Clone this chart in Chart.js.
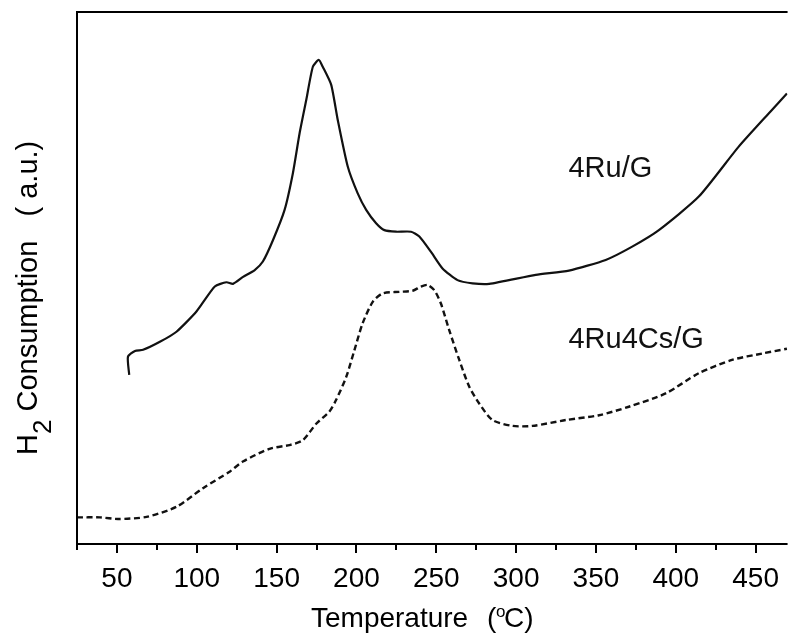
<!DOCTYPE html>
<html>
<head>
<meta charset="utf-8">
<script src="https://cdn.jsdelivr.net/npm/chart.js@4.4.1/dist/chart.umd.min.js"></script>
<style>
  html, body { margin: 0; padding: 0; background: #ffffff; }
  #wrap { width: 789px; height: 635px; }
</style>
</head>
<body>
<div id="wrap"><canvas id="tpr" width="789" height="635"></canvas></div>
<script>
// H2-TPR profiles, temperature in °C, signal in arbitrary units
const temperatureRuG = [57.7, 56.9, 61.3, 66.4, 76.9, 87.3, 99.8, 111.3, 118.6, 122.7, 129.0, 136.3, 141.4, 147.7, 155.0, 160.2, 164.4, 168.6, 172.7, 176.4, 178.9, 184.2, 188.3, 194.6, 200.8, 206.1, 212.3, 217.5, 224.8, 234.2, 239.4, 246.7, 253.9, 263.3, 272.7, 283.1, 312.3, 333.1, 356.1, 372.7, 389.4, 414.4, 439.4, 460.2, 469.6];
const signalRuG = [31.8, 35.2, 36.3, 36.5, 38.0, 39.9, 43.7, 48.4, 49.2, 48.9, 50.2, 51.5, 53.1, 57.1, 62.8, 69.7, 77.2, 83.5, 89.7, 91.0, 89.7, 86.3, 79.7, 70.9, 65.9, 62.8, 60.3, 59.0, 58.7, 58.7, 57.8, 54.9, 51.8, 49.6, 49.0, 48.9, 50.6, 51.4, 53.4, 55.9, 59.0, 65.3, 74.7, 81.6, 84.7];

const temperatureRuCsG = [25.0, 39.4, 50.8, 68.6, 87.3, 103.9, 120.6, 128.9, 145.6, 158.1, 166.4, 174.8, 183.1, 187.3, 193.6, 198.8, 203.9, 210.2, 216.4, 226.9, 235.2, 240.4, 244.6, 248.8, 252.9, 258.1, 264.4, 270.6, 276.9, 285.2, 297.7, 310.2, 331.1, 351.9, 370.6, 393.6, 414.4, 435.2, 454.0, 469.6];
const signalRuCsG = [5.0, 5.0, 4.7, 5.1, 7.0, 10.5, 13.6, 15.5, 17.9, 18.6, 19.5, 22.6, 24.9, 27.1, 31.4, 36.5, 41.5, 45.5, 47.1, 47.4, 47.6, 48.4, 48.7, 47.7, 45.2, 40.2, 34.6, 29.6, 26.4, 23.3, 22.2, 22.2, 23.3, 24.2, 25.8, 28.3, 32.1, 34.6, 35.8, 36.7];

const majorTicks = [50, 100, 150, 200, 250, 300, 350, 400, 450];
const minorTicks = [25, 75, 125, 175, 225, 275, 325, 375, 425];

const seriesLabels = ['4Ru/G', '4Ru4Cs/G'];

const FONT = "'Liberation Sans', Arial, Helvetica, sans-serif";

function toPoints(xs, ys) {
  return xs.map((x, i) => ({ x: x, y: ys[i] }));
}

// Frame, tick marks, curve labels and axis titles
const framePlugin = {
  id: 'frame',
  afterDraw(chart) {
    const ctx = chart.ctx;
    const a = chart.chartArea;
    const xs = chart.scales.x;
    const ys = chart.scales.y;
    ctx.save();
    ctx.strokeStyle = '#000';
    ctx.lineWidth = 2;
    ctx.lineCap = 'butt';
    ctx.beginPath();
    ctx.moveTo(a.left, a.bottom);
    ctx.lineTo(a.right, a.bottom);
    ctx.moveTo(a.left, a.bottom);
    ctx.lineTo(a.left, a.top);
    ctx.lineTo(a.right, a.top);
    ctx.stroke();

    ctx.beginPath();
    majorTicks.forEach(v => {
      const px = Math.round(xs.getPixelForValue(v));
      ctx.moveTo(px, a.bottom);
      ctx.lineTo(px, a.bottom + 9);
    });
    minorTicks.forEach(v => {
      const px = Math.round(xs.getPixelForValue(v));
      ctx.moveTo(px, a.bottom);
      ctx.lineTo(px, a.bottom + 6);
    });
    ctx.stroke();

    // curve labels
    ctx.fillStyle = '#111';
    ctx.font = '29px ' + FONT;
    ctx.textAlign = 'left';
    ctx.textBaseline = 'alphabetic';
    ctx.fillText(seriesLabels[0], xs.getPixelForValue(332.8), ys.getPixelForValue(69.0));
    ctx.fillText(seriesLabels[1], xs.getPixelForValue(332.8), ys.getPixelForValue(36.8));

    // x title
    ctx.fillStyle = '#000';
    ctx.font = '28px ' + FONT;
    ctx.fillText('Temperature', 311, 627);
    ctx.fillText('(', 487, 627);
    ctx.font = '17px ' + FONT;
    ctx.fillText('o', 496, 617);
    ctx.font = '28px ' + FONT;
    ctx.fillText('C)', 504, 627);

    // y title
    ctx.translate(37, 455);
    ctx.rotate(-Math.PI / 2);
    ctx.font = '29px ' + FONT;
    ctx.fillText('H', 0, 0);
    const wH = ctx.measureText('H').width;
    ctx.font = '26px ' + FONT;
    ctx.fillText('2', wH, 14);
    const w2 = ctx.measureText('2').width;
    ctx.font = '29px ' + FONT;
    ctx.fillText(' Consumption   ( a.u.)', wH + w2, 0);
    ctx.restore();
  }
};

new Chart(document.getElementById('tpr'), {
  type: 'line',
  data: {
    datasets: [
      {
        label: seriesLabels[0],
        data: toPoints(temperatureRuG, signalRuG),
        borderColor: '#111',
        borderWidth: 2.2,
        pointRadius: 0,
        tension: 0.2,
        fill: false
      },
      {
        label: seriesLabels[1],
        data: toPoints(temperatureRuCsG, signalRuCsG),
        borderColor: '#111',
        borderWidth: 2.4,
        borderDash: [6, 3.5],
        pointRadius: 0,
        tension: 0.25,
        fill: false
      }
    ]
  },
  options: {
    responsive: false,
    animation: false,
    devicePixelRatio: 1,
    layout: { padding: { left: 77, top: 12, right: 0, bottom: 0 } },
    plugins: {
      legend: { display: false },
      tooltip: { enabled: false }
    },
    scales: {
      x: {
        type: 'linear',
        min: 25,
        max: 470,
        grid: { display: false },
        border: { display: false },
        afterBuildTicks(scale) {
          scale.ticks = majorTicks.map(v => ({ value: v }));
        },
        afterFit(scale) { scale.height = 91; },
        ticks: {
          color: '#000',
          padding: 10,
          maxRotation: 0,
          autoSkip: false,
          font: { family: FONT, size: 28 }
        }
      },
      y: {
        display: false,
        min: 0,
        max: 100
      }
    }
  },
  plugins: [framePlugin]
});
</script>
</body>
</html>
